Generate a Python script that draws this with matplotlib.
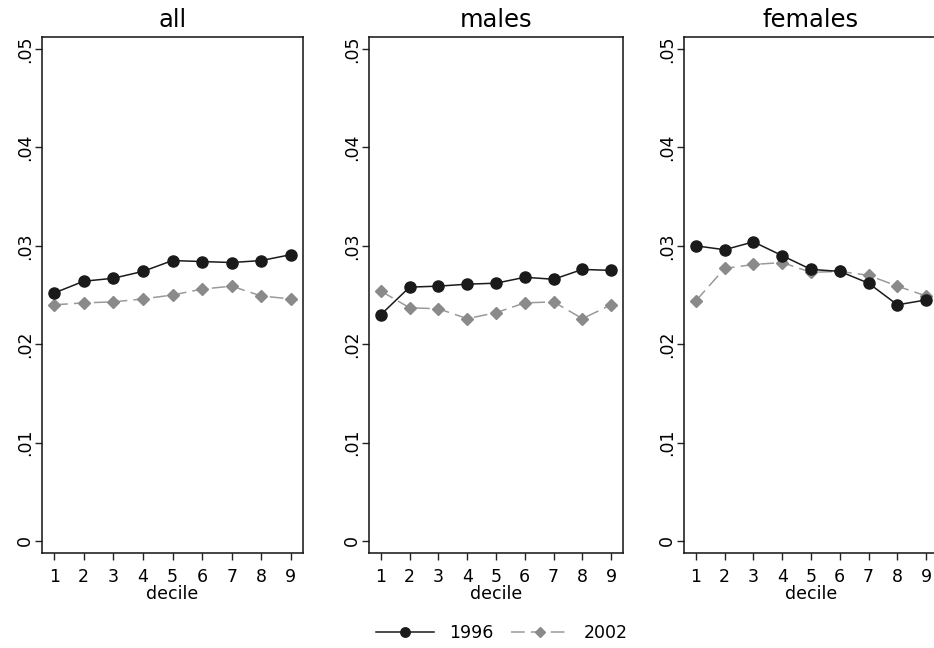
import numpy as np
import matplotlib
matplotlib.use("Agg")
import matplotlib.pyplot as plt

# decile shares
deciles = [1, 2, 3, 4, 5, 6, 7, 8, 9]
panels = ["all", "males", "females"]

all_1996 = [0.0252, 0.0264, 0.0267, 0.0274, 0.0285, 0.0284, 0.0283, 0.0285, 0.0291]
all_2002 = [0.0240, 0.0242, 0.0243, 0.0246, 0.0250, 0.0256, 0.0259, 0.0249, 0.0246]
males_1996 = [0.0230, 0.0258, 0.0259, 0.0261, 0.0262, 0.0268, 0.0266, 0.0276, 0.0275]
males_2002 = [0.0254, 0.0237, 0.0236, 0.0226, 0.0232, 0.0242, 0.0243, 0.0226, 0.0240]
females_1996 = [0.0300, 0.0296, 0.0304, 0.0290, 0.0276, 0.0274, 0.0262, 0.0240, 0.0245]
females_2002 = [0.0244, 0.0277, 0.0281, 0.0283, 0.0273, 0.0274, 0.0270, 0.0259, 0.0249]

series_1996 = [all_1996, males_1996, females_1996]
series_2002 = [all_2002, males_2002, females_2002]

yticks = [0, 0.01, 0.02, 0.03, 0.04, 0.05]
ytick_labels = ["0", ".01", ".02", ".03", ".04", ".05"]

plt.rcParams["font.family"] = "DejaVu Sans"

W, H = 934, 648
fig = plt.figure(figsize=(W / 100, H / 100), dpi=100)

# axes boxes in pixels: (left, right); top 37, bottom 553
boxes = [(42, 303), (369, 623), (684, 938)]
top, bottom = 37, 553

for i, name in enumerate(panels):
    l, r = boxes[i]
    ax = fig.add_axes([l / W, 1 - bottom / H, (r - l) / W, (bottom - top) / H])
    ax.plot(deciles, series_1996[i], color="#1a1a1a", lw=1.1, marker="o",
            markersize=8, markerfacecolor="#1a1a1a", markeredgecolor="#1a1a1a",
            label="1996", zorder=3)
    ax.plot(deciles, series_2002[i], color="#9a9a9a", lw=1.1, ls=(0, (9, 4)),
            marker="D", markersize=6.5, markerfacecolor="#8a8a8a",
            markeredgecolor="#8a8a8a", label="2002", zorder=2)
    ax.set_xlim(0.59, 9.41)
    ax.set_ylim(-0.00122, 0.05122)
    ax.set_xticks(deciles)
    ax.set_yticks(yticks)
    ax.set_yticklabels(ytick_labels, rotation=90, va="center")
    ax.tick_params(axis="both", length=5, width=1, labelsize=12.5, color="#222222")
    ax.tick_params(axis="x", pad=6)
    ax.tick_params(axis="y", pad=1)
    for sp in ax.spines.values():
        sp.set_linewidth(1.1)
        sp.set_color("#111111")
    ax.set_title(name, fontsize=17.5, pad=7)
    ax.set_xlabel("decile", fontsize=12.5, labelpad=-1)
    if i == 0:
        handles, labels = ax.get_legend_handles_labels()

fig.legend(handles, labels, loc="center", bbox_to_anchor=(502 / W, 1 - 633 / H),
           ncol=2, frameon=False, fontsize=12.5, handlelength=3.3,
           handletextpad=0.9, columnspacing=1.0, markerscale=0.85)

fig.savefig("out.png", dpi=100)
